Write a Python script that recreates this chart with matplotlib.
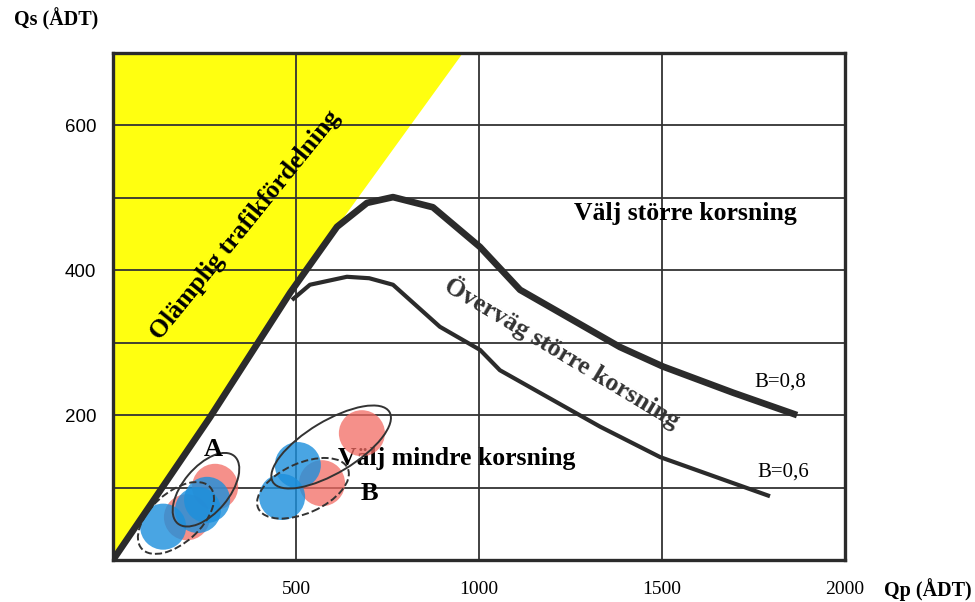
import numpy as np
import matplotlib
matplotlib.use("Agg")
import matplotlib.pyplot as plt
from matplotlib.patches import Ellipse, Polygon
from matplotlib.transforms import ScaledTranslation

# capacity curves (Qp, Qs)
b08_x = [0, 265, 484, 612, 694, 765, 874, 1003, 1112, 1385, 1503, 1694, 1869]
b08_y = [0, 197, 369, 460, 493, 501, 487, 432, 373, 294, 267, 231, 200]
b06_x = [489, 538, 639, 700, 765, 893, 1003, 1057, 1331, 1495, 1795]
b06_y = [359, 380, 391, 389, 380, 322, 290, 262, 184, 142, 88]

# edge of the yellow "olämplig" area above the curve
yellow_x = [612, 956]
yellow_y = [460, 700]

# observed intersections
blue_x = [137, 232, 257, 462, 505]
blue_y = [46, 69, 83, 87, 131]
red_x = [202, 279, 571, 680]
red_y = [59, 101, 106, 175]

# ellipses round group A / B: centre, semi axes (px), angle, style
ell_cx = [254, 172, 596, 519]
ell_cy = [97, 58, 156, 99]
ell_a = [44, 46, 68, 49]
ell_b = [23, 25, 26, 25]
ell_ang = [50, 42, 31, 24]
ell_ls = ['-', '--', '-', '--']

xticks = [500, 1000, 1500, 2000]
yticks = [100, 200, 300, 400, 500, 600]
ylabels = ['', '200', '', '400', '', '600']

serif = 'Liberation Serif'
dark = '#2b2b2b'

fig = plt.figure(figsize=(9.75, 6.02), dpi=100)
ax = fig.add_axes([0.1159, 0.0698, 0.7508, 0.8422])
ax.set_xlim(0, 2000)
ax.set_ylim(0, 700)

# yellow area
idx = b08_x.index(yellow_x[0])
poly = list(zip(b08_x[:idx + 1], b08_y[:idx + 1])) + [(yellow_x[1], yellow_y[1]), (0, 700)]
ax.add_patch(Polygon(poly, closed=True, facecolor='#ffff10', edgecolor='none', zorder=0))

ax.set_xticks(xticks)
ax.set_xticklabels([str(t) for t in xticks], fontfamily=serif, fontsize=14)
ax.set_yticks(yticks)
ax.set_yticklabels(ylabels, fontfamily='Liberation Sans', fontsize=13.5)
ax.tick_params(length=0)
ax.tick_params(axis='x', pad=15)
ax.tick_params(axis='y', pad=12)
ax.grid(True, color='#333333', lw=1.3, zorder=1)
ax.set_axisbelow(False)
for s in ax.spines.values():
    s.set_linewidth(2.4)
    s.set_color(dark)
    s.set_zorder(6)

# circles
ax.scatter(red_x, red_y, s=1100, color='#f26b63', alpha=0.75, edgecolors='none', zorder=3)
ax.scatter(blue_x, blue_y, s=1100, color='#1c8fdc', alpha=0.8, edgecolors='none', zorder=3)

# ellipses, size in pixels so the shape is not stretched by the axes
for cx, cy, a, b, ang, ls in zip(ell_cx, ell_cy, ell_a, ell_b, ell_ang, ell_ls):
    tr = fig.dpi_scale_trans + ScaledTranslation(cx, cy, ax.transData)
    e = Ellipse((0, 0), 2 * a / 100, 2 * b / 100, angle=ang, transform=tr,
                fill=False, edgecolor='#333333', lw=1.4, linestyle=ls, zorder=4)
    ax.add_patch(e)

# curves
ax.plot(b08_x, b08_y, color=dark, lw=4.8, solid_capstyle='butt', zorder=5)
ax.plot(b06_x, b06_y, color=dark, lw=3.0, solid_capstyle='butt', zorder=5)

# texts
ax.text(-0.078, 1.066, 'Qs (ÅDT)', transform=ax.transAxes, ha='center', va='center',
        fontfamily=serif, fontweight='bold', fontsize=14.5)
ax.text(1.113, -0.059, 'Qp (ÅDT)', transform=ax.transAxes, ha='center', va='center',
        fontfamily=serif, fontweight='bold', fontsize=14.5)
ax.text(361, 462, 'Olämplig trafikfördelning', rotation=51, ha='center', va='center',
        fontfamily=serif, fontweight='bold', fontsize=18.5, zorder=7)
ax.text(1563, 479, 'Välj större korsning', ha='center', va='center',
        fontfamily=serif, fontweight='bold', fontsize=18.5, zorder=7)
ax.text(1227, 286, 'Överväg större korsning', rotation=-31, ha='center', va='center',
        fontfamily=serif, fontweight='bold', fontsize=18.5, color='#333333', zorder=7)
ax.text(1823, 245, 'B=0,8', ha='center', va='center', fontfamily=serif, fontsize=15, zorder=7)
ax.text(1830, 121, 'B=0,6', ha='center', va='center', fontfamily=serif, fontsize=15, zorder=7)
ax.text(273, 153, 'A', ha='center', va='center', fontfamily=serif, fontweight='bold',
        fontsize=19, zorder=7)
ax.text(700, 92, 'B', ha='center', va='center', fontfamily=serif, fontweight='bold',
        fontsize=19, zorder=7)
ax.text(940, 140, 'Välj mindre korsning', ha='center', va='center', fontfamily=serif,
        fontweight='bold', fontsize=18.5, zorder=2)

plt.savefig('out.png', dpi=100)
